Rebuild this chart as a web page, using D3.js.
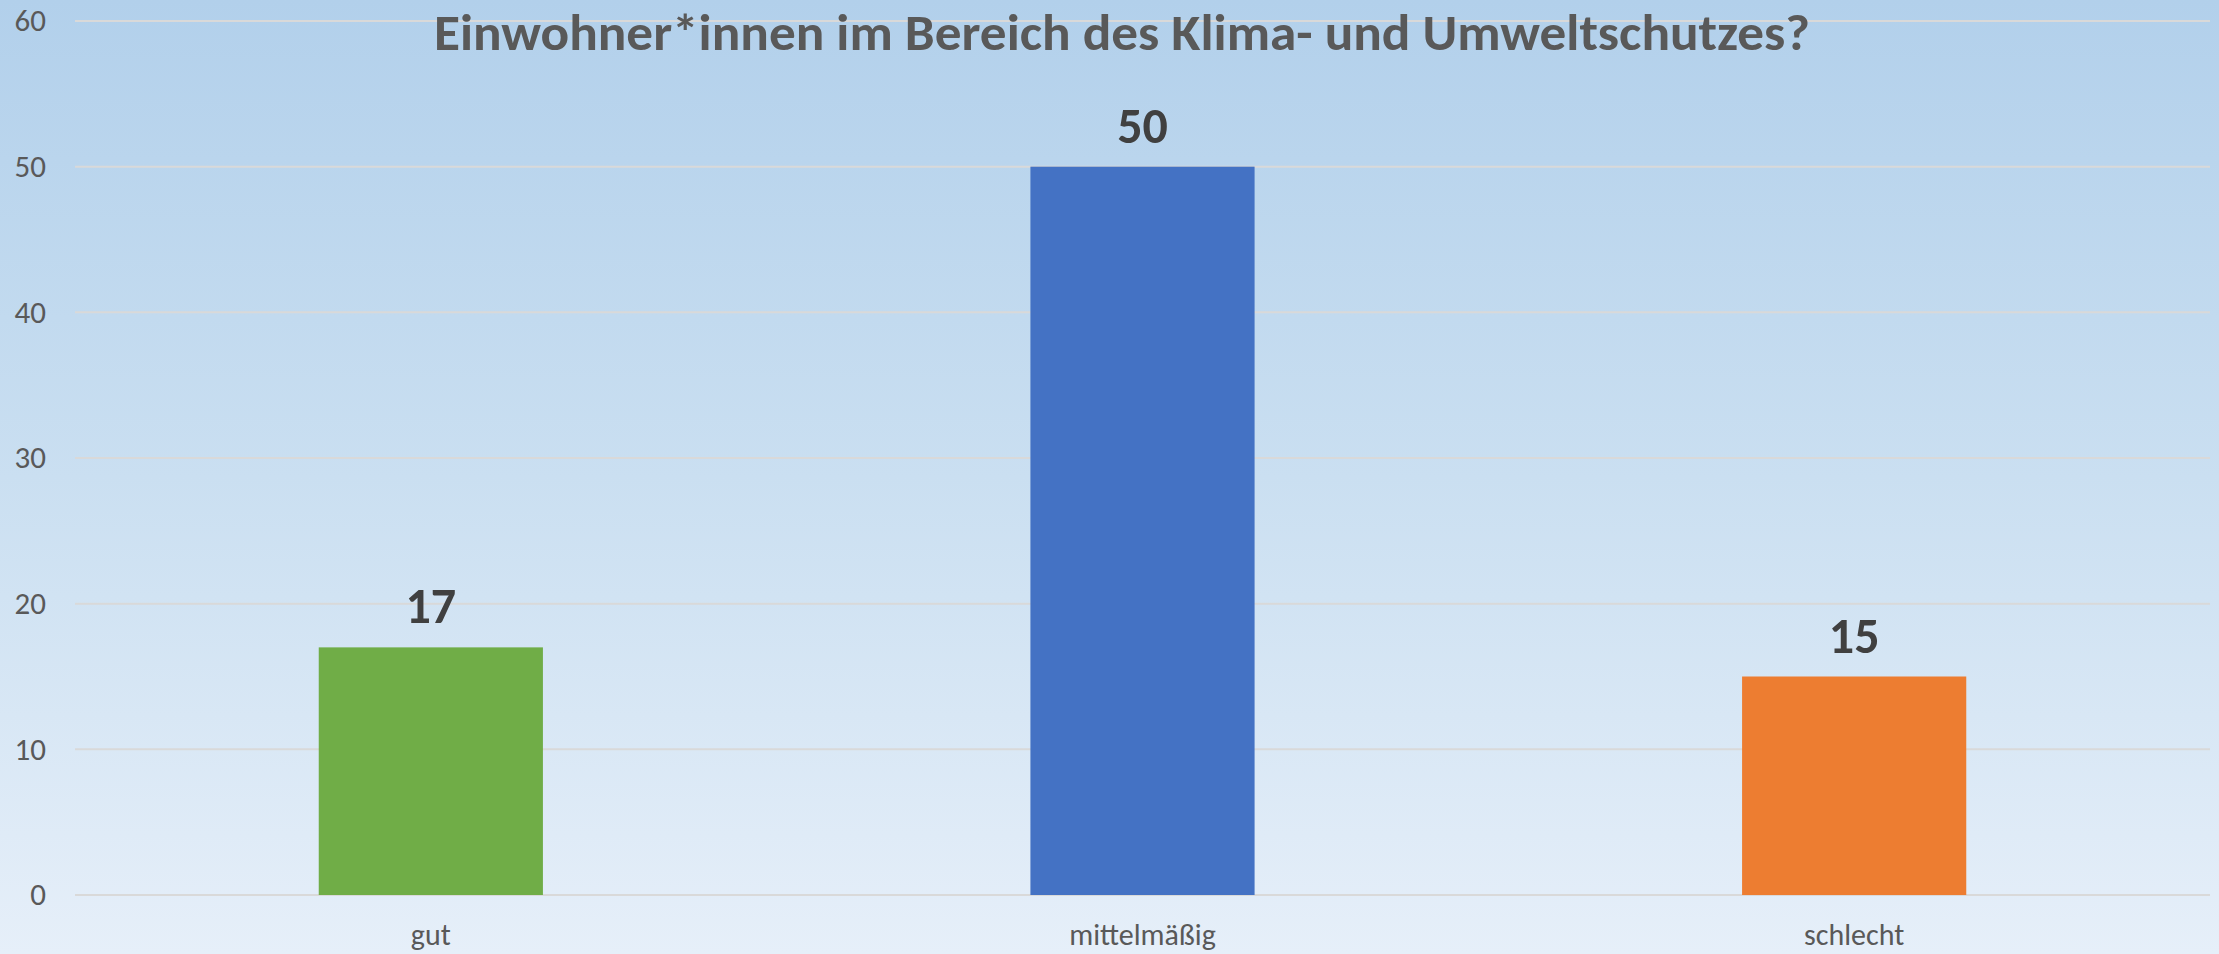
<!DOCTYPE html>
<html>
<head>
<meta charset="utf-8">
<script src="https://cdn.jsdelivr.net/npm/d3@7"></script>
<style>
  html, body { margin: 0; padding: 0; }
  body { width: 2219px; height: 954px; overflow: hidden; }
  svg text { font-family: Carlito, Calibri, "Open Sans", sans-serif; }
</style>
</head>
<body>
<div id="chart_pane"></div>
<script>
// data
var categories = ["gut", "mittelmäßig", "schlecht"];
var values = [17, 50, 15];
var barColors = ["#70AD47", "#4472C4", "#ED7D31"];
var yTicks = [0, 10, 20, 30, 40, 50, 60];
var chartTitle = "Einwohner*innen im Bereich des Klima- und Umweltschutzes?";

// setup
var W = 2219, H = 954;
var margin = { top: 21, right: 9, bottom: 59, left: 75 };
var w = W - margin.left - margin.right;
var h = H - margin.top - margin.bottom;

var svg = d3.select("#chart_pane")
    .append("svg")
    .attr("width", W)
    .attr("height", H);

// background gradient
var defs = svg.append("defs");
var grad = defs.append("linearGradient")
    .attr("id", "bg")
    .attr("x1", 0).attr("y1", 0)
    .attr("x2", 0).attr("y2", 1);
grad.append("stop").attr("offset", "0%").attr("stop-color", "#B2D0EB");
grad.append("stop").attr("offset", "50%").attr("stop-color", "#CADFF1");
grad.append("stop").attr("offset", "100%").attr("stop-color", "#E6EFF9");

svg.append("rect")
    .attr("width", W)
    .attr("height", H)
    .attr("fill", "url(#bg)");

var g = svg.append("g")
    .attr("transform", "translate(" + margin.left + "," + margin.top + ")");

// scales
var xScale = d3.scaleBand()
    .domain(categories)
    .range([0, w])
    .paddingInner(0.685)
    .paddingOuter(0.3425);

var yScale = d3.scaleLinear()
    .domain([0, 60])
    .range([h, 0]);

// gridlines
g.append("g")
    .attr("class", "grid")
    .selectAll("line")
    .data(yTicks)
    .enter().append("line")
    .attr("x1", 0)
    .attr("x2", w)
    .attr("y1", function(d) { return yScale(d); })
    .attr("y2", function(d) { return yScale(d); })
    .style("stroke", "#D9D9D9")
    .style("stroke-width", 2);

// y-axis labels
var yAxis = d3.axisLeft(yScale).tickValues(yTicks).tickSize(0).tickPadding(29);
var yg = g.append("g").attr("class", "y axis").call(yAxis);
yg.select(".domain").remove();
yg.selectAll("text")
    .style("font-size", "31px")
    .attr("fill", "#595959");

// bars
g.selectAll(".bar")
    .data(values)
    .enter().append("rect")
    .attr("class", "bar")
    .attr("x", function(d, i) { return xScale(categories[i]); })
    .attr("width", xScale.bandwidth())
    .attr("y", function(d) { return yScale(d); })
    .attr("height", function(d) { return h - yScale(d); })
    .style("fill", function(d, i) { return barColors[i]; });

// value labels
g.selectAll(".val")
    .data(values)
    .enter().append("text")
    .attr("class", "val")
    .attr("x", function(d, i) { return xScale(categories[i]) + xScale.bandwidth() / 2; })
    .attr("y", function(d) { return yScale(d) - 24; })
    .attr("text-anchor", "middle")
    .style("font-size", "50px")
    .style("font-weight", "bold")
    .attr("fill", "#404040")
    .text(function(d) { return d; });

// x-axis labels
var xAxis = d3.axisBottom(xScale).tickSize(0).tickPadding(29);
var xg = g.append("g")
    .attr("class", "x axis")
    .attr("transform", "translate(0," + h + ")")
    .call(xAxis);
xg.select(".domain").remove();
xg.selectAll("text")
    .style("font-size", "30px")
    .attr("fill", "#595959");

// title
svg.append("text")
    .attr("x", 1122)
    .attr("y", 50)
    .attr("text-anchor", "middle")
    .attr("textLength", 1376)
    .attr("lengthAdjust", "spacingAndGlyphs")
    .style("font-size", "51px")
    .style("font-weight", "bold")
    .attr("fill", "#595959")
    .text(chartTitle);
</script>
</body>
</html>
